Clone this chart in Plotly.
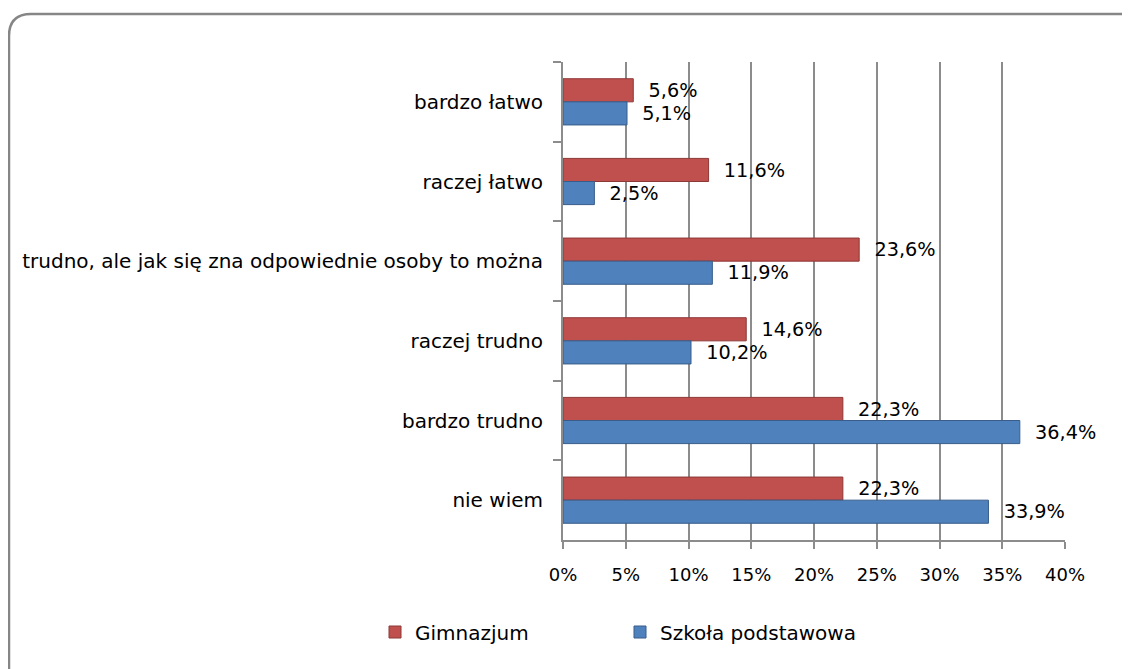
import plotly.graph_objects as go

categories = ["bardzo łatwo", "raczej łatwo",
              "trudno, ale jak się zna odpowiednie osoby to można",
              "raczej trudno", "bardzo trudno", "nie wiem"]
gimnazjum = [5.6, 11.6, 23.6, 14.6, 22.3, 22.3]
podstawowa = [5.1, 2.5, 11.9, 10.2, 36.4, 33.9]
series_names = ["Gimnazjum", "Szkoła podstawowa"]
tick_vals = [0, 5, 10, 15, 20, 25, 30, 35, 40]
tick_text = [f"{v}%" for v in tick_vals]

OFF = 8  # page body margin
W, H = 1130 - OFF, 669 - OFF
L, R, T, B = 563 - OFF, 65, 62 - OFF, 129
PW, PH = W - L - R, H - T - B

def px(x):  # screen pixel -> paper
    return (x - OFF - L) / PW

def py(y):
    return 1 - (y - OFF - T) / PH

def lab(vals):
    return ["\u00a0\u00a0" + f"{v:.1f}%".replace(".", ",") for v in vals]

font = "DejaVu Sans"
fig = go.Figure()
fig.add_trace(go.Bar(
    y=categories, x=gimnazjum, orientation="h", name=series_names[0],
    marker=dict(color="#C0504D", line=dict(color="#8C3836", width=1)),
    text=lab(gimnazjum), textposition="outside", cliponaxis=False,
    textfont=dict(family=font, size=20, color="#000000")))
fig.add_trace(go.Bar(
    y=categories, x=podstawowa, orientation="h", name=series_names[1],
    marker=dict(color="#4F81BD", line=dict(color="#385D8A", width=1)),
    text=lab(podstawowa), textposition="outside", cliponaxis=False,
    textfont=dict(family=font, size=20, color="#000000")))

border = (f"M {px(9)},{py(700)} L {px(9)},{py(36)} "
          f"Q {px(9)},{py(14)} {px(31)},{py(14)} L {px(1160)},{py(14)}")

fig.update_layout(
    width=W, height=H,
    margin=dict(l=L, r=R, t=T, b=B),
    paper_bgcolor="white", plot_bgcolor="white",
    barmode="group", bargap=0.42, bargroupgap=0,
    font=dict(family=font, size=16, color="#000000"),
    showlegend=True,
    legend=dict(orientation="h", x=px(375), y=py(632), xanchor="left",
                yanchor="middle", entrywidth=200, entrywidthmode="pixels",
                font=dict(family=font, size=20), traceorder="normal"),
    xaxis=dict(range=[0, 40], tickmode="array", tickvals=tick_vals,
               ticktext=tick_text,
               showgrid=True, gridcolor="#8C8C8C", gridwidth=2,
               showline=True, linecolor="#8C8C8C", linewidth=2,
               ticks="outside", ticklen=7, tickcolor="#8C8C8C", tickwidth=2,
               ticklabelstandoff=10,
               tickfont=dict(family=font, size=18), zeroline=False),
    yaxis=dict(autorange="reversed", showline=True, linecolor="#8C8C8C",
               linewidth=2, ticks="outside", ticklen=8, tickcolor="#8C8C8C",
               tickwidth=2, tickson="boundaries", ticklabelstandoff=14,
               tickfont=dict(family=font, size=20)),
    shapes=[dict(type="path", path=border, xref="paper", yref="paper",
                 line=dict(color="#868686", width=2.5), layer="above")],
)

fig.write_html("out.html")
